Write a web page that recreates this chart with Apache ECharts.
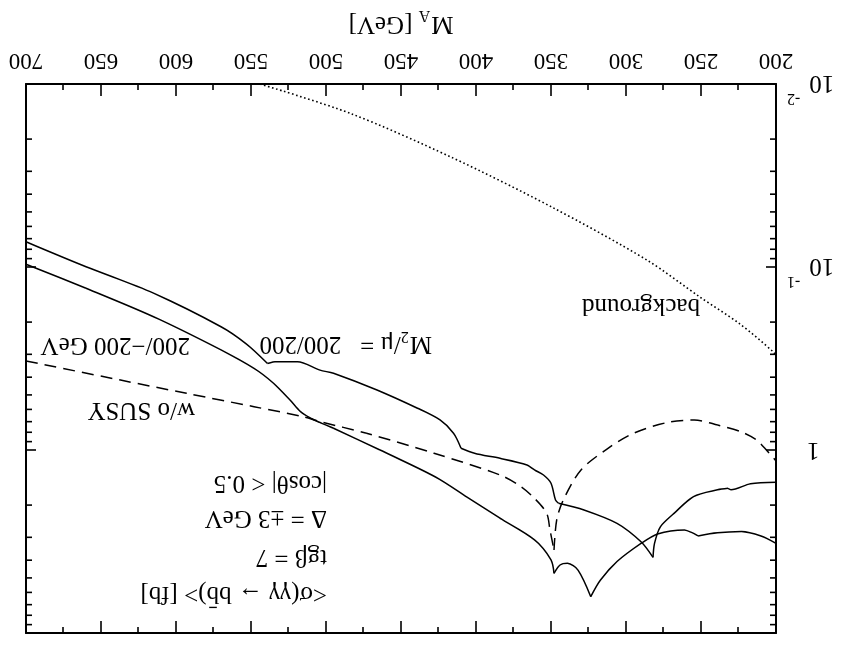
<!DOCTYPE html>
<html>
<head>
<meta charset="utf-8">
<script src="https://cdn.jsdelivr.net/npm/echarts@6/dist/echarts.min.js"></script>
<style>
html,body{margin:0;padding:0;background:#fff;overflow:hidden;}
#chart{width:844px;height:645px;transform:rotate(180deg);transform-origin:50% 50%;}
</style>
</head>
<body>
<div id="chart"></div>
<script>
// ---------- data ----------
// curve M2/mu = 200/200
const mass_200_200 = [700, 660, 615, 570, 553, 539, 533, 519, 504, 495, 466, 439, 424, 415, 410, 401, 384, 366, 361, 355, 350, 347, 345, 328, 306, 290, 282, 281, 277, 268, 255, 239, 232, 230, 217, 200];
const sigma_200_200 = [0.0728, 0.0996, 0.139, 0.212, 0.264, 0.337, 0.329, 0.329, 0.366, 0.381, 0.470, 0.591, 0.685, 0.810, 0.979, 1.042, 1.110, 1.208, 1.285, 1.370, 1.52, 1.876, 1.955, 2.128, 2.517, 3.17, 3.86, 3.24, 2.62, 2.22, 1.80, 1.65, 1.62, 1.65, 1.53, 1.50];
const kinks_200_200 = [539, 410, 345, 282, 232];

// curve 200/-200 GeV
const mass_200_m200 = [700, 660, 615, 570, 548, 535, 524, 517, 510, 504, 495, 464, 427, 406, 384, 361, 350, 348, 344, 339, 332, 323.5, 317, 306, 290, 279, 261, 256, 252, 239, 223, 210, 200];
const sigma_200_m200 = [0.0966, 0.1307, 0.187, 0.284, 0.358, 0.432, 0.533, 0.617, 0.671, 0.708, 0.761, 1.0, 1.404, 1.807, 2.36, 3.10, 3.99, 4.72, 4.25, 4.16, 4.53, 6.33, 5.13, 4.07, 3.24, 2.88, 2.74, 2.83, 2.95, 2.83, 2.79, 2.95, 3.24];
const kinks_200_m200 = [348, 323.5, 252];

// w/o SUSY (dashed)
const mass_noSusy = [700, 637, 593, 548, 515, 504, 473, 428, 384, 370, 361, 352.9, 350.7, 348, 346.2, 341.8, 330, 312, 295, 272, 254.5, 239, 223, 213, 207, 200];
const sigma_noSusy = [0.326, 0.415, 0.490, 0.580, 0.658, 0.70, 0.810, 1.042, 1.369, 1.587, 1.837, 2.218, 2.73, 3.52, 2.41, 1.876, 1.286, 0.979, 0.810, 0.706, 0.686, 0.730, 0.797, 0.882, 0.987, 1.148];
const kinks_noSusy = [348];

// background (dotted)
const mass_bkg = [544, 484, 417, 350, 286, 250.7, 224, 202, 200];
const sigma_bkg = [0.0100, 0.01445, 0.0250, 0.0468, 0.0917, 0.146, 0.205, 0.29, 0.306];

// axes
const X_MIN = 200, X_MAX = 700, X_STEP = 50;
const Y_MIN = 0.01, Y_MAX = 10;
const yTickValues = [0.01, 0.1, 1, 10];
const yTickBase = ['10', '10', '1', ''];
const yTickExp = ['-2', '-1', '', ''];
const yMinorTicks = [0.02, 0.03, 0.04, 0.05, 0.06, 0.07, 0.08, 0.09,
                     0.2, 0.3, 0.4, 0.5, 0.6, 0.7, 0.8, 0.9,
                     2, 3, 4, 5, 6, 7, 8, 9];

// ---------- chart ----------
const FF = "'Liberation Serif', 'Times New Roman', Times, serif";
const BLACK = '#000';

// split a curve into pieces at its sharp points (the point is shared by both pieces)
function pieces(xs, ys, kinks) {
  const out = [];
  let cur = [];
  xs.forEach((x, i) => {
    cur.push([x, ys[i]]);
    if (kinks.indexOf(x) >= 0 && i > 0 && i < xs.length - 1) {
      out.push(cur);
      cur = [[x, ys[i]]];
    }
  });
  if (cur.length > 1) out.push(cur);
  return out;
}

const chart = echarts.init(document.getElementById('chart'), null, {renderer: 'canvas'});

const frameLine = {show: true, lineStyle: {color: BLACK, width: 2}};
const xTick = {show: true, inside: true, length: 12, lineStyle: {color: BLACK, width: 1.6}};
const xMinor = {show: true, splitNumber: 2, length: 6, lineStyle: {color: BLACK, width: 1.6}};
const yTick = {show: true, inside: true, length: 10, lineStyle: {color: BLACK, width: 1.6}};

function curveSeries(name, xs, ys, kinks, style) {
  return pieces(xs, ys, kinks).map(seg => ({
    type: 'line', name: name, data: seg,
    showSymbol: false, symbol: 'none', clip: true, z: 3,
    smooth: 0.3,
    lineStyle: Object.assign({color: BLACK, width: 1.5}, style || {})
  }));
}

const txt = (x, y, text) => ({
  type: 'text', x: x, y: y,
  style: {text: text, font: '25px ' + FF, fill: BLACK, align: 'left', verticalAlign: 'middle', textAlign: 'left', textVerticalAlign: 'middle'}
});

const option = {
  animation: false,
  backgroundColor: '#fff',
  grid: {left: 68, right: 26, top: 12, bottom: 84, outerBoundsMode: 'none'},
  xAxis: [
    {
      type: 'value', position: 'bottom', min: X_MIN, max: X_MAX, interval: X_STEP,
      axisLine: frameLine, axisTick: xTick, minorTick: xMinor, splitLine: {show: false},
      axisLabel: {color: BLACK, fontFamily: FF, fontSize: 23, margin: 12},
      name: '{m|M}{a|A}{m| [GeV]}', nameLocation: 'middle', nameGap: 48,
      nameTextStyle: {
        rich: {
          m: {fontSize: 25, fontFamily: FF, color: BLACK, verticalAlign: 'top'},
          a: {fontSize: 16, fontFamily: FF, color: BLACK, verticalAlign: 'top', padding: [13, 0, 0, 1]}
        }
      }
    },
    {
      type: 'value', position: 'top', min: X_MIN, max: X_MAX, interval: X_STEP,
      axisLine: frameLine, axisTick: xTick, minorTick: xMinor, splitLine: {show: false},
      axisLabel: {show: false}
    }
  ],
  yAxis: [
    {
      type: 'log', logBase: 10, position: 'left', min: Y_MIN, max: Y_MAX,
      axisLine: frameLine, axisTick: yTick, splitLine: {show: false}, minorTick: {show: false},
      axisLabel: {
        margin: 11, padding: [0, 0, 9, 0],
        formatter: function (v) {
          const i = yTickValues.findIndex(t => Math.abs(Math.log10(t) - Math.log10(v)) < 1e-6);
          if (i < 0 || !yTickBase[i]) return '';
          return yTickExp[i] ? '{b|' + yTickBase[i] + '}{s|' + yTickExp[i] + '}' : '{o|' + yTickBase[i] + '}';
        },
        rich: {
          b: {fontSize: 25, fontFamily: FF, color: BLACK, verticalAlign: 'bottom'},
          s: {fontSize: 16, fontFamily: FF, color: BLACK, verticalAlign: 'top', padding: [0, 0, 20, 9]},
          o: {fontSize: 25, fontFamily: FF, color: BLACK, padding: [9, 20, 0, 0]}
        }
      }
    },
    {
      type: 'log', logBase: 10, position: 'right', min: Y_MIN, max: Y_MAX,
      axisLine: frameLine, axisTick: yTick, splitLine: {show: false}, minorTick: {show: false},
      axisLabel: {show: false}
    }
  ],
  series: [].concat(
    curveSeries('M2/μ = 200/200', mass_200_200, sigma_200_200, kinks_200_200),
    curveSeries('200/−200 GeV', mass_200_m200, sigma_200_m200, kinks_200_m200),
    curveSeries('w/o SUSY', mass_noSusy, sigma_noSusy, kinks_noSusy, {type: [12, 7]}),
    curveSeries('background', mass_bkg, sigma_bkg, [], {type: [1.6, 2.6], width: 1.6}),
    [{
      type: 'custom', name: 'log minor ticks', silent: true, clip: false,
      xAxisIndex: 0, yAxisIndex: 0,
      data: yMinorTicks.map(v => [X_MIN, v]),
      encode: {x: 0, y: 1},
      renderItem: function (params, api) {
        const v = api.value(1);
        const L = api.coord([X_MIN, v]);
        const R = api.coord([X_MAX, v]);
        const st = {stroke: BLACK, lineWidth: 1.6};
        return {
          type: 'group', children: [
            {type: 'line', shape: {x1: L[0], y1: L[1], x2: L[0] + 6, y2: L[1]}, style: st},
            {type: 'line', shape: {x1: R[0] - 6, y1: R[1], x2: R[0], y2: R[1]}, style: st}
          ]
        };
      }
    }]
  ),
  graphic: [
    txt(517, 51, '<σ(γγ → bb\u0304)> [fb]'),
    txt(517, 88, 'tgβ = 7'),
    txt(517, 127, 'Δ = ±3 GeV'),
    txt(517, 162, '|cosθ| < 0.5'),
    {type: 'text', x: 412, y: 303, style: {
      text: '{n|M}{d|2}{n|/μ =   200/200}', align: 'left', verticalAlign: 'middle', textAlign: 'left', textVerticalAlign: 'middle',
      rich: {
        n: {fontSize: 25, fontFamily: FF, fill: BLACK, verticalAlign: 'top'},
        d: {fontSize: 16, fontFamily: FF, fill: BLACK, verticalAlign: 'top', padding: [12, 0, 0, 1]}
      }
    }},
    txt(654, 300, '200/−200 GeV'),
    txt(649, 235, 'w/o SUSY'),
    txt(144, 339, 'background')
  ]
};

chart.setOption(option);
</script>
</body>
</html>
